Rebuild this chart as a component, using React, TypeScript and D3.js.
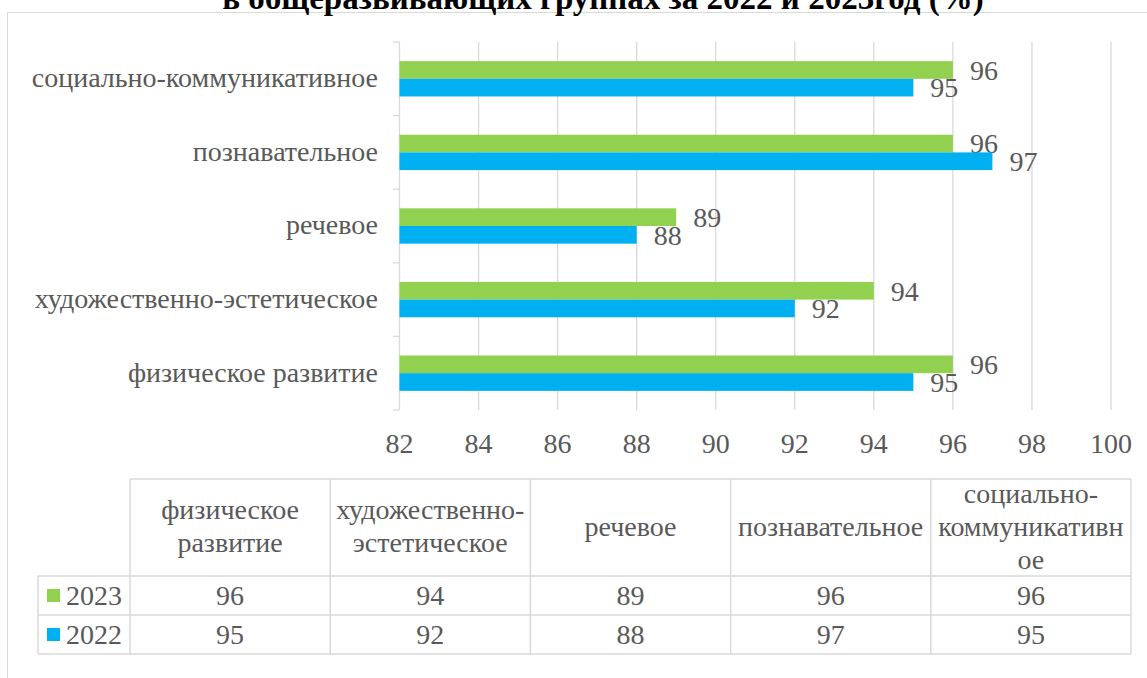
import React from 'react';
import * as d3 from 'd3';

const title = 'в общеразвивающих группах за 2022 и 2023год (%)';
const categories = ['физическое развитие', 'художественно-эстетическое', 'речевое', 'познавательное', 'социально-коммуникативное'];
const tableHeaders = [['физическое', 'развитие'], ['художественно-', 'эстетическое'], ['речевое'], ['познавательное'], ['социально-', 'коммуникативн', 'ое']];
const values2023 = [96, 94, 89, 96, 96];
const values2022 = [95, 92, 88, 97, 95];
const xTicks = [82, 84, 86, 88, 90, 92, 94, 96, 98, 100];
const seriesNames = ['2023', '2022'];
const seriesColors = ['#92D050', '#00B0F0'];

const FONT = "'Liberation Serif', 'Times New Roman', 'DejaVu Serif', serif";
const TEXT = '#595959';
const GRID = '#d9d9d9';
const ts = (size: number, extra: React.CSSProperties = {}): React.CSSProperties => ({ fontFamily: FONT, fontSize: size, ...extra });

export default function App() {
  const x = d3.scaleLinear().domain([82, 100]).range([399.5, 1111]);
  const y = d3.scaleBand<string>().domain([...categories].reverse()).range([42, 410]).padding(0);
  const bh = y.bandwidth() * 0.24;
  const col = d3.scaleBand<string>().domain(categories).range([130, 1131]).padding(0);
  const series = [values2023, values2022];
  const boundaries = d3.range(categories.length + 1).map(i => 42 + i * y.bandwidth());

  const headerTop = 479, headerBot = 576, row1Bot = 615, row2Bot = 654;
  const rowTops = [headerBot, row1Bot];
  const rowH = row1Bot - headerBot;
  const lineH = 33;

  return (
    <svg width={1147} height={678} style={{ position: 'absolute', left: 0, top: 0, fontFamily: FONT }}>
      <rect x={0} y={0} width={1147} height={678} fill="#fff" />
      <rect x={7.5} y={12.5} width={1200} height={700} fill="none" stroke={GRID} strokeWidth={1} />
      <text x={603} y={9} textAnchor="middle" style={ts(33, { fontWeight: 'bold' })} fill="#000">{title}</text>

      {xTicks.map(t => (
        <line key={t} x1={x(t)} x2={x(t)} y1={42} y2={410} stroke={GRID} strokeWidth={1.3} />
      ))}
      {boundaries.map((b, i) => (
        <line key={i} x1={393} x2={x(82)} y1={b} y2={b} stroke={GRID} strokeWidth={1.3} />
      ))}

      {categories.map((c, i) => {
        const cy = (y(c) as number) + y.bandwidth() / 2;
        return (
          <g key={c}>
            {series.map((vals, s) => {
              const top = s === 0 ? cy - bh : cy;
              return (
                <g key={s}>
                  <rect x={x(82)} y={top} width={x(vals[i]) - x(82)} height={bh} fill={seriesColors[s]} />
                  <text x={x(vals[i]) + 17} y={top + bh / 2} dy="0.35em" style={ts(28)} fill={TEXT}>{vals[i]}</text>
                </g>
              );
            })}
            <text x={378} y={cy} dy="0.3em" textAnchor="end" style={ts(28)} fill={TEXT}>{c}</text>
          </g>
        );
      })}

      {xTicks.map(t => (
        <text key={t} x={x(t)} y={453} textAnchor="middle" style={ts(28)} fill={TEXT}>{t}</text>
      ))}

      <g stroke={GRID} strokeWidth={1.5} fill="none">
        <line x1={130} x2={1131} y1={headerTop} y2={headerTop} />
        <line x1={38} x2={1131} y1={headerBot} y2={headerBot} />
        <line x1={38} x2={1131} y1={row1Bot} y2={row1Bot} />
        <line x1={38} x2={1131} y1={row2Bot} y2={row2Bot} />
        <line x1={38} x2={38} y1={headerBot} y2={row2Bot} />
        {categories.map(c => (
          <line key={c} x1={col(c)} x2={col(c)} y1={headerTop} y2={row2Bot} />
        ))}
        <line x1={1131} x2={1131} y1={headerTop} y2={row2Bot} />
      </g>
      {categories.map((c, i) => {
        const cx = (col(c) as number) + col.bandwidth() / 2;
        const lines = tableHeaders[i];
        const mid = (headerTop + headerBot) / 2;
        return (
          <g key={c}>
            {lines.map((l, k) => (
              <text key={k} x={cx} y={mid + (k - (lines.length - 1) / 2) * lineH} dy="0.3em" textAnchor="middle" style={ts(28)} fill={TEXT}>{l}</text>
            ))}
            {series.map((vals, s) => (
              <text key={s} x={cx} y={rowTops[s] + rowH / 2} dy="0.35em" textAnchor="middle" style={ts(28)} fill={TEXT}>{vals[i]}</text>
            ))}
          </g>
        );
      })}
      {seriesNames.map((n, s) => (
        <g key={n}>
          <rect x={47} y={rowTops[s] + rowH / 2 - 6.5} width={13} height={13} fill={seriesColors[s]} />
          <text x={66} y={rowTops[s] + rowH / 2} dy="0.35em" style={ts(28)} fill={TEXT}>{n}</text>
        </g>
      ))}
    </svg>
  );
}
